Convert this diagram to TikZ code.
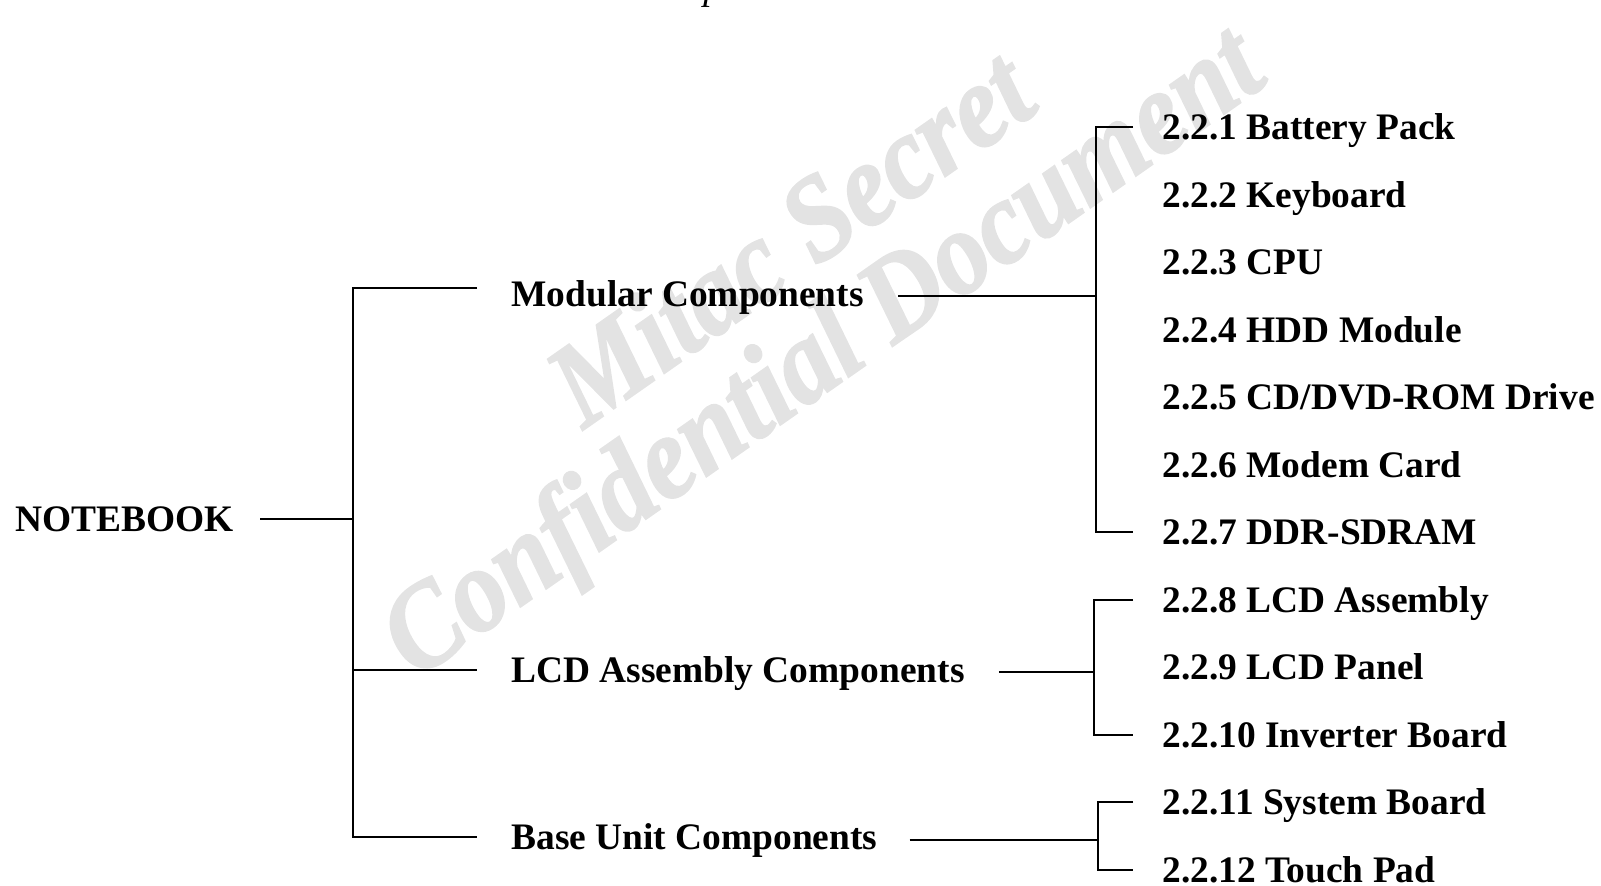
\documentclass[tikz,border=0pt]{standalone}
\usepackage{fontspec}
\setmainfont{Liberation Serif}
\newfontfamily\stampfont[FakeBold=1.6, FakeStretch=0.9]{Liberation Serif Bold Italic}
\usetikzlibrary{positioning, calc}

\begin{document}
\begin{tikzpicture}[
    x=0.02cm, y=-0.02cm,
    entry/.style={inner sep=0pt, anchor=west, text height=14.4pt, text depth=0pt, font=\fontsize{21.3}{25}\selectfont\bfseries},
    grp/.style={entry},
    item/.style={entry},
    link/.style={draw, line width=1.1pt},
    stamp/.style={text=black!11, inner sep=0pt, rotate=35, font=\fontsize{68}{68}\stampfont}
  ]
  \useasboundingbox (0,0) rectangle (1601,885);

  % Watermark
  \node[stamp] (secret) at (789,236) {Mitac Secret};
  \node[stamp] (confid) at (826,357) {Confidential Document};

  % Cut caption
  \node[inner sep=0pt, anchor=base west, font=\fontsize{21.3}{25}\selectfont\itshape] (capfrag) at (703,0) {p};

  % Nodes
  \node[entry] (notebook) at (15,519) {NOTEBOOK};
  \node[grp] (modular) at (511,294) {Modular Components};
  \node[grp] (lcd) at (511,670) {LCD Assembly Components};
  \node[grp] (base) at (511,837) {Base Unit Components};
  \foreach \name [count=\k] in {Battery Pack, Keyboard, CPU, HDD Module, CD/DVD-ROM Drive, Modem Card, DDR-SDRAM, LCD Assembly, LCD Panel, Inverter Board, System Board, Touch Pad}
    \node[item] (item\k) at (1162,{59.8+67.5*\k}) {2.2.\k\ \name};

  \coordinate (trunk) at (353,0);
  \coordinate (busA) at (1096,0);
  \coordinate (busB) at (1094,0);
  \coordinate (busC) at (1098,0);

  % Connections
  \draw[link] ($(notebook.east)+(26,0)$) -- (trunk |- notebook.east);
  \draw[link] ($(modular.west)+(-34,-6)$) -| (trunk |- base.west) -- ($(base.west)+(-34,0)$);
  \draw[link] (trunk |- lcd.west) -- ($(lcd.west)+(-34,0)$);

  \draw[link] ($(modular.east)+(34,2)$) -- ($(busA |- modular.east)+(0,2)$);
  \draw[link] ($(item1.west)+(-29,0)$) -| (busA |- item7.west) -- ($(item7.west)+(-29,0)$);
  \draw[link] ($(lcd.east)+(34,2)$) -- ($(busB |- lcd.east)+(0,2)$);
  \draw[link] ($(item8.west)+(-29,0)$) -| (busB |- item10.west) -- ($(item10.west)+(-29,0)$);
  \draw[link] ($(base.east)+(32,3)$) -- ($(busC |- base.east)+(0,3)$);
  \draw[link] ($(item11.west)+(-29,0)$) -| (busC |- item12.west) -- ($(item12.west)+(-29,0)$);
\end{tikzpicture}
\end{document}
